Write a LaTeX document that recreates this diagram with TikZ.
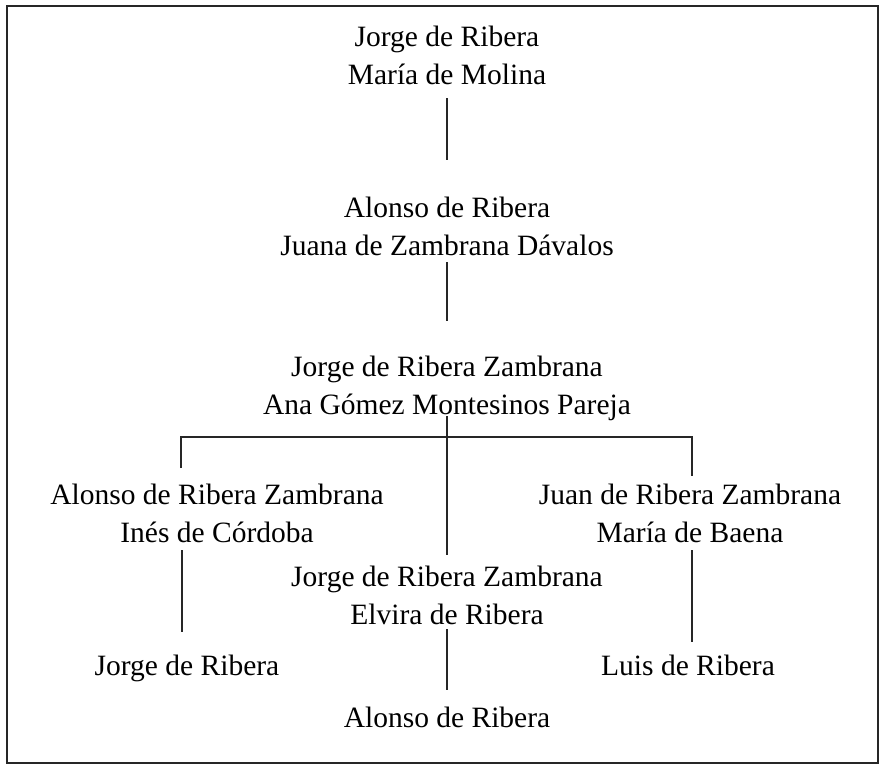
\documentclass[tikz,border=0pt]{standalone}
\usepackage{fontspec}
\setmainfont{Liberation Serif}
\usetikzlibrary{calc}
\begin{document}
\begin{tikzpicture}[x=1pt,y=-1pt,
  person/.style={align=center, font=\fontsize{29.5}{38}\selectfont, inner sep=0pt},
  link/.style={line width=1.1pt, black!85},
  frame/.style={line width=1.5pt, black!85}]
\useasboundingbox (0,0) rectangle (882,772);
\draw[frame] (7,6) rectangle (878,763);
\node[person] (top) at (447,55.5) {Jorge de Ribera\\María de Molina};
\node[person] (alonso) at (447,226.5) {Alonso de Ribera\\Juana de Zambrana Dávalos};
\node[person] (j2) at (447,388) {Jorge de Ribera Zambrana\\Ana Gómez Montesinos Pareja};
\node[person] (lc) at (217,513) {Alonso de Ribera Zambrana\\Inés de Córdoba};
\node[person] (rc) at (690,513) {Juan de Ribera Zambrana\\María de Baena};
\node[person] (mc) at (447,595) {Jorge de Ribera Zambrana\\Elvira de Ribera};
\node[person, anchor=base] (bl) at (187,675) {Jorge de Ribera};
\node[person, anchor=base] (br) at (688,675) {Luis de Ribera};
\node[person, anchor=base] (bm) at (447,727) {Alonso de Ribera};
\draw[link] ($(top.center)+(0,42.5)$) -- ($(alonso.center)+(0,-66.5)$);
\draw[link] ($(alonso.center)+(0,35.5)$) -- ($(j2.center)+(0,-67)$);
\draw[link] ($(j2.center)+(0,28)$) -- ($(mc.center)+(0,-40)$);
\draw[link] ($(lc.center)+(-36,-45)$) |- ($(j2.center)+(0,49)$) -| ($(rc.center)+(2,-37)$);
\draw[link] ($(lc.center)+(-35,37)$) -- ($(bl.base)+(-5,-43)$);
\draw[link] ($(rc.center)+(2,37)$) -- ($(br.base)+(4,-33)$);
\draw[link] ($(mc.center)+(0,34)$) -- ($(bm.base)+(0,-37)$);
\end{tikzpicture}
\end{document}
